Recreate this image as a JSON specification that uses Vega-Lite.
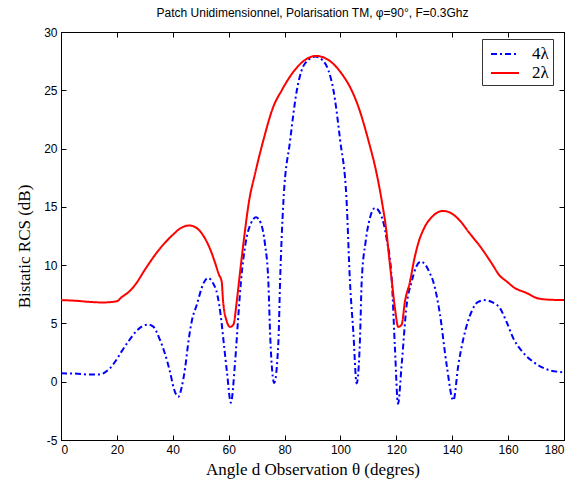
{
  "$schema": "https://vega.github.io/schema/vega-lite/v6.json",
  "width": 503,
  "height": 408,
  "autosize": "none",
  "padding": {"left": 61, "top": 32, "right": 9, "bottom": 47},
  "background": "white",
  "title": {"text": "Patch Unidimensionnel, Polarisation TM, φ=90°, F=0.3Ghz", "font": "Liberation Sans", "fontSize": 12, "fontWeight": "normal", "color": "black", "anchor": "middle", "offset": 6},
  "config": {
    "view": {"stroke": "black", "strokeWidth": 1},
    "axis": {"domainColor": "black", "tickColor": "black", "labelColor": "black", "labelFont": "Liberation Sans", "labelFontSize": 12, "titleFont": "Liberation Serif", "titleColor": "black", "titleFontWeight": "normal", "grid": false, "tickSize": -5, "labelPadding": 9, "labelExpr": "replace(datum.label, '−', '-')"}
  },
  "resolve": {"axis": {"x": "independent", "y": "independent"}},
  "data": {"values": [
    {"angle":0,"rcs":0.72,"series":"4λ"},{"angle":5,"rcs":0.70,"series":"4λ"},{"angle":10,"rcs":0.62,"series":"4λ"},{"angle":14,"rcs":0.62,"series":"4λ"},{"angle":15,"rcs":0.7,"series":"4λ"},{"angle":17.5,"rcs":1.15,"series":"4λ"},{"angle":19.9,"rcs":1.9,"series":"4λ"},{"angle":21.7,"rcs":2.6,"series":"4λ"},{"angle":24.1,"rcs":3.45,"series":"4λ"},{"angle":27.1,"rcs":4.37,"series":"4λ"},{"angle":29,"rcs":4.75,"series":"4λ"},{"angle":31.1,"rcs":4.9,"series":"4λ"},{"angle":32.9,"rcs":4.75,"series":"4λ"},{"angle":35.4,"rcs":3.6,"series":"4λ"},{"angle":37.2,"rcs":2.4,"series":"4λ"},{"angle":39,"rcs":0.86,"series":"4λ"},{"angle":40.4,"rcs":-0.6,"series":"4λ"},{"angle":42,"rcs":-1.3,"series":"4λ"},{"angle":43.2,"rcs":-0.45,"series":"4λ"},{"angle":44.4,"rcs":1.15,"series":"4λ"},{"angle":45.6,"rcs":3.45,"series":"4λ"},{"angle":46.8,"rcs":5.2,"series":"4λ"},{"angle":48.6,"rcs":6.6,"series":"4λ"},{"angle":50.9,"rcs":8.4,"series":"4λ"},{"angle":52.6,"rcs":8.9,"series":"4λ"},{"angle":54.3,"rcs":8.5,"series":"4λ"},{"angle":56,"rcs":7.4,"series":"4λ"},{"angle":57.2,"rcs":5.6,"series":"4λ"},{"angle":58.3,"rcs":3.2,"series":"4λ"},{"angle":59.4,"rcs":0.8,"series":"4λ"},{"angle":60.8,"rcs":-1.8,"series":"4λ"},{"angle":62.3,"rcs":1.7,"series":"4λ"},{"angle":63.5,"rcs":5.8,"series":"4λ"},{"angle":64.4,"rcs":8.6,"series":"4λ"},{"angle":66,"rcs":11.8,"series":"4λ"},{"angle":68,"rcs":13.6,"series":"4λ"},{"angle":69.8,"rcs":14.1,"series":"4λ"},{"angle":71.5,"rcs":13.6,"series":"4λ"},{"angle":73,"rcs":11.8,"series":"4λ"},{"angle":74.2,"rcs":8.6,"series":"4λ"},{"angle":74.9,"rcs":3.7,"series":"4λ"},{"angle":76.3,"rcs":-0.1,"series":"4λ"},{"angle":77.8,"rcs":3.45,"series":"4λ"},{"angle":78.4,"rcs":8.6,"series":"4λ"},{"angle":79.6,"rcs":15.5,"series":"4λ"},{"angle":82,"rcs":20.7,"series":"4λ"},{"angle":84.4,"rcs":25,"series":"4λ"},{"angle":86.1,"rcs":26.7,"series":"4λ"},{"angle":88.5,"rcs":27.6,"series":"4λ"},{"angle":91,"rcs":27.9,"series":"4λ"},{"angle":93.5,"rcs":27.6,"series":"4λ"},{"angle":95.7,"rcs":26.7,"series":"4λ"},{"angle":97.5,"rcs":25,"series":"4λ"},{"angle":99.9,"rcs":20.7,"series":"4λ"},{"angle":102.2,"rcs":15.5,"series":"4λ"},{"angle":103.4,"rcs":8.6,"series":"4λ"},{"angle":104.6,"rcs":4.3,"series":"4λ"},{"angle":105.8,"rcs":-0.15,"series":"4λ"},{"angle":107,"rcs":3.7,"series":"4λ"},{"angle":107.6,"rcs":8.6,"series":"4λ"},{"angle":109,"rcs":12.0,"series":"4λ"},{"angle":110.5,"rcs":14.0,"series":"4λ"},{"angle":112.4,"rcs":14.9,"series":"4λ"},{"angle":114.5,"rcs":14.3,"series":"4λ"},{"angle":116.5,"rcs":12.3,"series":"4λ"},{"angle":118.4,"rcs":8.6,"series":"4λ"},{"angle":119.5,"rcs":2.9,"series":"4λ"},{"angle":120.6,"rcs":-1.9,"series":"4λ"},{"angle":121.9,"rcs":1.45,"series":"4λ"},{"angle":123.7,"rcs":6.6,"series":"4λ"},{"angle":125.5,"rcs":8.6,"series":"4λ"},{"angle":127,"rcs":9.8,"series":"4λ"},{"angle":128.8,"rcs":10.3,"series":"4λ"},{"angle":130.5,"rcs":10.0,"series":"4λ"},{"angle":132,"rcs":9.3,"series":"4λ"},{"angle":133.2,"rcs":8.6,"series":"4λ"},{"angle":135.6,"rcs":5.8,"series":"4λ"},{"angle":138,"rcs":1.45,"series":"4λ"},{"angle":140.4,"rcs":-1.6,"series":"4λ"},{"angle":142.2,"rcs":1.45,"series":"4λ"},{"angle":144,"rcs":3.7,"series":"4λ"},{"angle":146.9,"rcs":6.0,"series":"4λ"},{"angle":149,"rcs":6.8,"series":"4λ"},{"angle":151.7,"rcs":7.0,"series":"4λ"},{"angle":154.5,"rcs":6.8,"series":"4λ"},{"angle":157.1,"rcs":6.3,"series":"4λ"},{"angle":159.5,"rcs":5.1,"series":"4λ"},{"angle":161.9,"rcs":3.7,"series":"4λ"},{"angle":165,"rcs":2.6,"series":"4λ"},{"angle":169,"rcs":1.7,"series":"4λ"},{"angle":172,"rcs":1.25,"series":"4λ"},{"angle":175,"rcs":0.97,"series":"4λ"},{"angle":178,"rcs":0.85,"series":"4λ"},{"angle":180,"rcs":0.8,"series":"4λ"},
    {"angle":0,"rcs":7.0,"series":"2λ"},{"angle":5,"rcs":6.95,"series":"2λ"},{"angle":10,"rcs":6.85,"series":"2λ"},{"angle":15,"rcs":6.8,"series":"2λ"},{"angle":19.9,"rcs":6.9,"series":"2λ"},{"angle":21.7,"rcs":7.25,"series":"2λ"},{"angle":24.7,"rcs":7.8,"series":"2λ"},{"angle":27.1,"rcs":8.5,"series":"2λ"},{"angle":30,"rcs":9.6,"series":"2λ"},{"angle":35,"rcs":11.3,"series":"2λ"},{"angle":40,"rcs":12.6,"series":"2λ"},{"angle":43,"rcs":13.2,"series":"2λ"},{"angle":46,"rcs":13.4,"series":"2λ"},{"angle":49,"rcs":13.1,"series":"2λ"},{"angle":51.5,"rcs":12.3,"series":"2λ"},{"angle":53.5,"rcs":11.3,"series":"2λ"},{"angle":55,"rcs":10.3,"series":"2λ"},{"angle":56.5,"rcs":9.2,"series":"2λ"},{"angle":57.5,"rcs":8.6,"series":"2λ"},{"angle":58,"rcs":6.9,"series":"2λ"},{"angle":59.3,"rcs":5.2,"series":"2λ"},{"angle":60.5,"rcs":4.7,"series":"2λ"},{"angle":61.7,"rcs":4.9,"series":"2λ"},{"angle":62.9,"rcs":6.9,"series":"2λ"},{"angle":63.7,"rcs":8.6,"series":"2λ"},{"angle":65.5,"rcs":12.3,"series":"2λ"},{"angle":67.3,"rcs":15.5,"series":"2λ"},{"angle":69.4,"rcs":17.8,"series":"2λ"},{"angle":72.4,"rcs":20.7,"series":"2λ"},{"angle":76,"rcs":23.6,"series":"2λ"},{"angle":79,"rcs":25,"series":"2λ"},{"angle":82.6,"rcs":26.4,"series":"2λ"},{"angle":87.3,"rcs":27.6,"series":"2λ"},{"angle":91.3,"rcs":27.95,"series":"2λ"},{"angle":95.7,"rcs":27.6,"series":"2λ"},{"angle":100.5,"rcs":26.4,"series":"2λ"},{"angle":104,"rcs":25,"series":"2λ"},{"angle":106.4,"rcs":23.6,"series":"2λ"},{"angle":110,"rcs":20.7,"series":"2λ"},{"angle":113,"rcs":17.8,"series":"2λ"},{"angle":114.8,"rcs":15.5,"series":"2λ"},{"angle":116.5,"rcs":12.8,"series":"2λ"},{"angle":117.5,"rcs":10.5,"series":"2λ"},{"angle":118.4,"rcs":8.6,"series":"2λ"},{"angle":119.5,"rcs":6.3,"series":"2λ"},{"angle":120.7,"rcs":4.7,"series":"2λ"},{"angle":121.9,"rcs":4.9,"series":"2λ"},{"angle":123.1,"rcs":6.9,"series":"2λ"},{"angle":124.9,"rcs":8.6,"series":"2λ"},{"angle":126.5,"rcs":10.6,"series":"2λ"},{"angle":128,"rcs":12.0,"series":"2λ"},{"angle":130,"rcs":13.2,"series":"2λ"},{"angle":133,"rcs":14.2,"series":"2λ"},{"angle":136.7,"rcs":14.65,"series":"2λ"},{"angle":140,"rcs":14.4,"series":"2λ"},{"angle":142.8,"rcs":13.8,"series":"2λ"},{"angle":146,"rcs":12.8,"series":"2λ"},{"angle":150,"rcs":11.6,"series":"2λ"},{"angle":154,"rcs":10.2,"series":"2λ"},{"angle":157,"rcs":9.1,"series":"2λ"},{"angle":159.5,"rcs":8.6,"series":"2λ"},{"angle":162,"rcs":8.1,"series":"2λ"},{"angle":166.7,"rcs":7.6,"series":"2λ"},{"angle":170,"rcs":7.2,"series":"2λ"},{"angle":173.8,"rcs":7.05,"series":"2λ"},{"angle":180,"rcs":7.0,"series":"2λ"}
  ]},
  "layer": [
    {
      "mark": {"type": "line", "strokeWidth": 2, "clip": true, "interpolate": "monotone"},
      "encoding": {
        "x": {"field": "angle", "type": "quantitative", "scale": {"domain": [0, 180], "nice": false, "zero": false}, "axis": {"orient": "bottom", "values": [0,20,40,60,80,100,120,140,160,180], "title": "Angle d Observation θ (degres)", "titleFontSize": 17, "titlePadding": 6}},
        "y": {"field": "rcs", "type": "quantitative", "scale": {"domain": [-5, 30], "nice": false, "zero": false}, "axis": {"orient": "left", "values": [-5,0,5,10,15,20,25,30], "title": "Bistatic  RCS (dB)", "titleFontSize": 17, "titlePadding": 10, "titleY": 214}},
        "color": {"field": "series", "type": "nominal", "scale": {"domain": ["4λ", "2λ"], "range": ["#0000ff", "#ff0000"]}, "legend": {"title": null, "orient": "none", "legendX": 421, "legendY": 7, "fillColor": "white", "strokeColor": "#333333", "padding": 4, "symbolType": "M-1.4,0L1.4,0", "symbolSize": 400, "symbolStrokeWidth": 2, "symbolOffset": 8, "labelFont": "Liberation Serif", "labelFontSize": 17, "labelColor": "black", "rowPadding": 0, "labelOffset": 16}},
        "strokeDash": {"field": "series", "type": "nominal", "scale": {"domain": ["4λ", "2λ"], "range": [[6, 3, 2, 3], [1, 0]]}, "legend": null},
        "order": {"field": "angle"}
      }
    },
    {
      "mark": {"type": "line", "opacity": 0},
      "encoding": {
        "x": {"field": "angle", "type": "quantitative", "axis": {"orient": "top", "values": [0,20,40,60,80,100,120,140,160,180], "labels": false, "title": null}},
        "y": {"field": "rcs", "type": "quantitative", "axis": {"orient": "right", "values": [-5,0,5,10,15,20,25,30], "labels": false, "title": null}},
        "detail": {"field": "series"}
      }
    }
  ]
}
